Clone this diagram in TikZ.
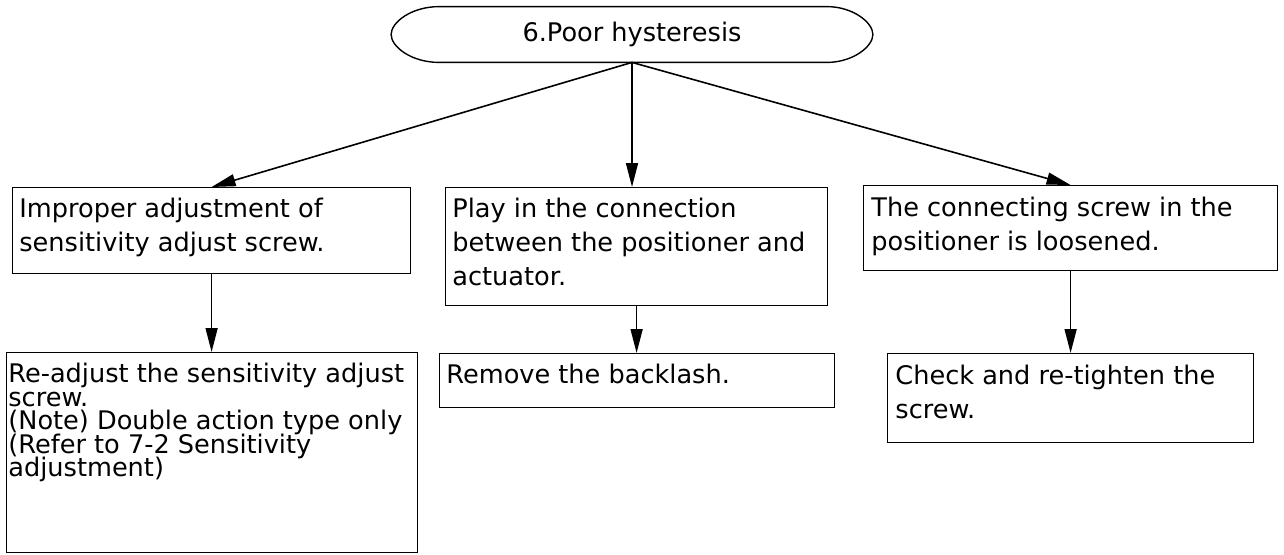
\documentclass[tikz,border=0pt]{standalone}
\usepackage{fontspec}
\setmainfont{DejaVu Sans}
\usetikzlibrary{arrows.meta,positioning,calc}
\tikzset{
  box/.style={draw, line width=0.6pt, anchor=north west, inner sep=0pt},
  txt/.style={anchor=north west, inner sep=0pt, align=left,
    font=\fontsize{12.8}{17}\selectfont},
  tighttxt/.style={txt, font={\fontsize{12.8}{11.75}\selectfont\lineskiplimit=-20pt}},
  arr/.style={-{Triangle[length=12pt,width=6pt]}, line width=0.8pt},
}
\begin{document}
\begin{tikzpicture}[x=0.5pt,y=-0.5pt]
\useasboundingbox (0,0) rectangle (1284,554);

% Define node positions
\node[txt, anchor=center, align=center, minimum width=240.5pt, minimum height=27.5pt] (root) at (632,34.5) {6.Poor hysteresis};
\node[box, minimum width=199pt, minimum height=43pt] (c1) at (12,187) {};
\node[box, minimum width=191pt, minimum height=59pt] (c2) at (445,187) {};
\node[box, minimum width=207pt, minimum height=42.5pt] (c3) at (863,185) {};
\node[box, minimum width=205.5pt, minimum height=100pt] (r1) at (6,352) {};
\node[box, minimum width=197.5pt, minimum height=27pt] (r2) at (439,353) {};
\node[box, minimum width=183pt, minimum height=44.5pt] (r3) at (887,353) {};

% Box texts
\node[txt] (c1t) at ([xshift=3.5pt,yshift=-5.5pt]c1.north west) {Improper adjustment of\\sensitivity adjust screw.};
\node[txt] (c2t) at ([xshift=3.5pt,yshift=-5.5pt]c2.north west) {Play in the connection\\between the positioner and\\actuator.};
\node[txt] (c3t) at ([xshift=4pt,yshift=-6pt]c3.north west) {The connecting screw in the\\positioner is loosened.};
\node[tighttxt] (r1t) at ([xshift=1pt,yshift=-5.5pt]r1.north west) {Re-adjust the sensitivity adjust\\screw.\\(Note) Double action type only\\(Refer to 7-2 Sensitivity\\adjustment)};
\node[txt] (r2t) at ([xshift=3.5pt,yshift=-5.5pt]r2.north west) {Remove the backlash.};
\node[txt] (r3t) at ([xshift=4pt,yshift=-6pt]r3.north west) {Check and re-tighten the\\screw.};

% Outline of the top node
\draw[line width=0.7pt] ([xshift=24pt]root.north west) -- ([xshift=-23pt]root.north east)
  .. controls ([xshift=-10pt]root.north east) and ([yshift=6pt]root.east) .. (root.east)
  .. controls ([yshift=-6pt]root.east) and ([xshift=-10pt]root.south east) .. ([xshift=-23pt]root.south east)
  -- ([xshift=24pt]root.south west)
  .. controls ([xshift=10pt]root.south west) and ([yshift=-6pt]root.west) .. (root.west)
  .. controls ([yshift=6pt]root.west) and ([xshift=10pt]root.north west) .. cycle;

% Draw arrows
\draw[arr] (root.south) -- (c1.north);
\draw[arr] (root.south) -- (root.south |- c2.north);
\draw[arr] (root.south) -- (c3.north);
\draw[arr] (c1.south) -- (c1.south |- r1.north);
\draw[arr] (c2.south) -- (c2.south |- r2.north);
\draw[arr] (c3.south) -- (c3.south |- r3.north);
\end{tikzpicture}
\end{document}
